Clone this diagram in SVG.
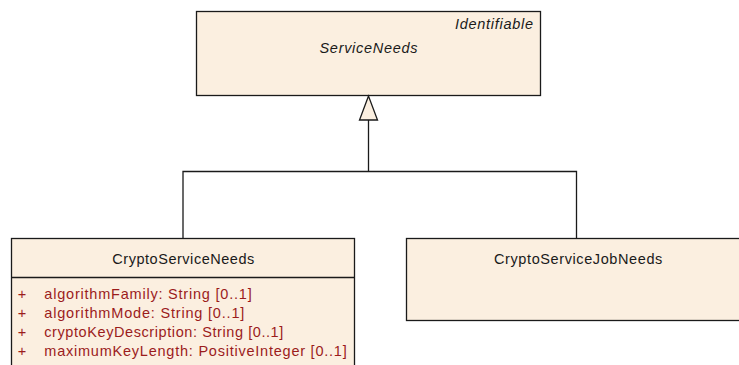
<svg xmlns="http://www.w3.org/2000/svg" width="739" height="365" viewBox="0 0 739 365">
<style>
.box{fill:#FBEFE0;stroke:#1a1a1a;stroke-width:1.3}
.t{font-family:"Liberation Sans",Arial,sans-serif;font-size:14.5px;fill:#1a1a1a}
.it{font-style:italic}
.a{font-family:"Liberation Sans",Arial,sans-serif;font-size:14.5px;fill:#9B1C1C}
.c{fill:none;stroke:#1a1a1a;stroke-width:1.3}
</style>
<rect width="739" height="365" fill="#ffffff"/>
<g id="ServiceNeeds">
<rect class="box" x="196.5" y="11.5" width="344" height="84"/>
<text class="t it" x="455" y="29" textLength="78" lengthAdjust="spacing">Identifiable</text>
<text class="t it" x="319.5" y="53" textLength="98" lengthAdjust="spacing">ServiceNeeds</text>
</g>
<g id="CryptoServiceNeeds">
<rect class="box" x="11.5" y="238.5" width="343" height="140"/>
<line class="c" x1="11.5" y1="277.5" x2="354.5" y2="277.5"/>
<text class="t" x="112.3" y="264" textLength="142" lengthAdjust="spacing">CryptoServiceNeeds</text>
<text class="a" x="22" y="299" text-anchor="middle">+</text>
<text class="a" x="44.3" y="299" textLength="207.4" lengthAdjust="spacing">algorithmFamily: String [0..1]</text>
<text class="a" x="22" y="318" text-anchor="middle">+</text>
<text class="a" x="44.3" y="318" textLength="200" lengthAdjust="spacing">algorithmMode: String [0..1]</text>
<text class="a" x="22" y="337" text-anchor="middle">+</text>
<text class="a" x="44.3" y="337" textLength="239" lengthAdjust="spacing">cryptoKeyDescription: String [0..1]</text>
<text class="a" x="22" y="356" text-anchor="middle">+</text>
<text class="a" x="44.3" y="356" textLength="302.4" lengthAdjust="spacing">maximumKeyLength: PositiveInteger [0..1]</text>
</g>
<g id="CryptoServiceJobNeeds">
<rect class="box" x="406.5" y="238.5" width="340" height="82"/>
<text class="t" x="494" y="264" textLength="168.3" lengthAdjust="spacing">CryptoServiceJobNeeds</text>
</g>
<g id="connectors">
<polyline class="c" points="183,238 183,171.5 576.5,171.5 576.5,238"/>
<line class="c" x1="368.5" y1="171.5" x2="368.5" y2="120"/>
<polygon points="368.5,96 359.5,120 377.5,120" fill="#FBEFE0" stroke="#1a1a1a" stroke-width="1.3"/>
</g>
</svg>
